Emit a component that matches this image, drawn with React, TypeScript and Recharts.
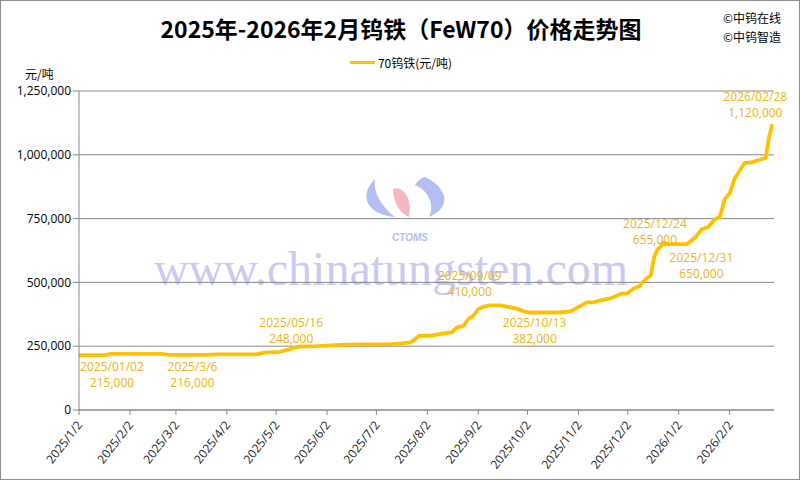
import React from "react";
import { LineChart, Line, XAxis, YAxis, CartesianGrid, Legend, LabelList } from "recharts";

// price points (元/吨)
const dates = [
  "2025/1/2", "2025/1/18", "2025/1/21", "2025/2/21", "2025/2/26", "2025/3/6", "2025/3/21", "2025/3/27",
  "2025/4/20", "2025/4/25", "2025/5/4", "2025/5/10", "2025/5/16", "2025/5/27", "2025/6/11", "2025/6/23",
  "2025/7/11", "2025/7/19", "2025/7/23", "2025/7/26", "2025/7/28", "2025/8/5", "2025/8/12", "2025/8/17",
  "2025/8/20", "2025/8/24", "2025/8/27", "2025/8/30", "2025/9/2", "2025/9/5", "2025/9/9", "2025/9/16",
  "2025/9/20", "2025/9/25", "2025/9/30", "2025/10/3", "2025/10/13", "2025/10/22", "2025/10/28", "2025/10/31",
  "2025/11/7", "2025/11/11", "2025/11/15", "2025/11/20", "2025/11/23", "2025/11/28", "2025/12/2", "2025/12/5",
  "2025/12/9", "2025/12/13", "2025/12/16", "2025/12/18", "2025/12/20", "2025/12/24", "2025/12/26", "2025/12/31",
  "2026/1/7", "2026/1/12", "2026/1/16", "2026/1/20", "2026/1/24", "2026/1/27", "2026/1/30", "2026/2/2",
  "2026/2/5", "2026/2/7", "2026/2/11", "2026/2/15", "2026/2/24", "2026/2/26", "2026/2/28",
];
const prices = [
  215000, 215000, 220000, 220000, 216000, 216000, 216000, 218000,
  218000, 225000, 228000, 238000, 248000, 250000, 255000, 257000,
  257000, 262000, 265000, 280000, 290000, 292000, 300000, 305000,
  323000, 330000, 357000, 369000, 396000, 404000, 410000, 410000,
  404000, 398000, 386000, 382000, 382000, 382000, 386000, 396000,
  422000, 422000, 429000, 435000, 442000, 455000, 458000, 474000,
  485000, 513000, 527000, 597000, 628000, 655000, 650000, 650000,
  650000, 675000, 708000, 717000, 748000, 755000, 826000, 848000,
  907000, 926000, 968000, 970000, 988000, 1070000, 1120000,
];

const xTickDates = [
  "2025/1/2", "2025/2/2", "2025/3/2", "2025/4/2", "2025/5/2", "2025/6/2", "2025/7/2",
  "2025/8/2", "2025/9/2", "2025/10/2", "2025/11/2", "2025/12/2", "2026/1/2", "2026/2/2",
];
const yTicks = [0, 250000, 500000, 750000, 1000000, 1250000];

const noteLabels = [
  "2025/01/02", "2025/3/6", "2025/05/16", "2025/09/09",
  "2025/10/13", "2025/12/24", "2025/12/31", "2026/02/28",
];
// label offsets from the point, px
const noteOffsets = [
  [33, 11], [10, 12], [-8, -24], [-20, -30],
  [-11, 10], [-9, -19], [26, 13], [-17, -28],
];

const dayOf = (s: string) => {
  const [y, m, d] = s.split("/").map(Number);
  return Math.round((Date.UTC(y, m - 1, d) - Date.UTC(2025, 0, 2)) / 86400000);
};

const data = dates.map((d, i) => ({ date: d, day: dayOf(d), price: prices[i] }));
const tickDays = xTickDates.map(dayOf);
const noteDays = noteLabels.map(dayOf);

const gold = "#FFC000";
const labelGold = "#EDB312";
const font = "'Open Sans', 'Noto Sans CJK SC', sans-serif";
const cjk = "'Noto Sans CJK SC', sans-serif";
const fmt = (v: number) => v.toLocaleString("en-US");

const XTick = (props: any) => {
  const { x, y, payload } = props;
  const i = tickDays.indexOf(payload.value);
  return (
    <g transform={`translate(${x + 4},${y + 8})`}>
      <text textAnchor="end" transform="rotate(-52)" fontSize={12} fontFamily={font} fill="#222">
        {xTickDates[i]}
      </text>
    </g>
  );
};

const NoteLabel = (props: any) => {
  const { x, y, index } = props;
  const k = noteDays.indexOf(data[index].day);
  if (k < 0) return null;
  const [dx, dy] = noteOffsets[k];
  return (
    <g>
      <text x={x + dx} y={y + dy} textAnchor="middle" dominantBaseline="central" fontSize={12} fontFamily={font} fill={labelGold}>
        {noteLabels[k]}
      </text>
      <text x={x + dx} y={y + dy + 16} textAnchor="middle" dominantBaseline="central" fontSize={12} fontFamily={font} fill={labelGold}>
        {fmt(data[index].price)}
      </text>
    </g>
  );
};

const Watermark = () => (
  <svg width={800} height={480} style={{ position: "absolute", left: 0, top: 0 }}>
    <path d="M374 178 C 356 196, 368 214, 394 216 C 382 206, 372 194, 374 178 Z" fill="#b6bdf0" />
    <path d="M392 188 C 402 184, 412 198, 408 216 C 398 212, 392 200, 392 188 Z" fill="#f6b8c0" />
    <path d="M424 176 C 446 186, 452 206, 428 216 C 434 204, 428 190, 414 184 C 416 180, 420 177, 424 176 Z" fill="#b6bdf0" />
    <text x={409} y={240} textAnchor="middle" fontSize={10} fontStyle="italic" fontWeight="bold" fontFamily="'Liberation Sans', sans-serif" fill="#b6bdf0">
      CTOMS
    </text>
    <text x={390} y={284} textAnchor="middle" fontSize={48} fontFamily="'Liberation Serif', serif" fill="#c8caf3">
      www.chinatungsten.com
    </text>
  </svg>
);

const App: React.FC = () => {
  return (
    <div style={{ position: "absolute", left: 0, top: 0, width: 800, height: 480, boxSizing: "border-box", border: "1px solid #8c8c8c", background: "#fff", overflow: "hidden" }}>
      <Watermark />
      <div style={{ position: "absolute", left: 0, top: 10, width: 800, textAlign: "center", fontSize: 23, fontWeight: "bold", fontFamily: cjk, lineHeight: "34px", color: "#000" }}>
        2025年-2026年2月钨铁（FeW70）价格走势图
      </div>
      <div style={{ position: "absolute", left: 722, top: 7, fontSize: 12, fontFamily: cjk, lineHeight: "19px", color: "#000" }}>
        <div>©中钨在线</div>
        <div>©中钨智造</div>
      </div>
      <div style={{ position: "absolute", left: 24, top: 64, fontSize: 12, fontFamily: cjk, color: "#000" }}>元/吨</div>
      <div style={{ position: "absolute", left: 0, top: 0 }}>
        <LineChart width={800} height={480} data={data} margin={{ top: 90, right: 27, bottom: 0, left: 0 }}>
          <CartesianGrid vertical={false} stroke="#888" />
          <XAxis
            dataKey="day"
            type="number"
            domain={[0, 423]}
            ticks={tickDays}
            interval={0}
            height={71}
            tick={<XTick />}
            tickLine={{ stroke: "#888" }}
            axisLine={{ stroke: "#888" }}
            tickSize={5}
          />
          <YAxis
            domain={[0, 1250000]}
            ticks={yTicks}
            interval={0}
            width={78}
            tickFormatter={fmt}
            tick={{ fontSize: 12, fontFamily: font, fill: "#000" }}
            tickLine={{ stroke: "#888" }}
            axisLine={{ stroke: "#888" }}
            tickSize={6}
          />
          <Legend
            verticalAlign="middle"
            align="center"
            layout="horizontal"
            wrapperStyle={{ top: 53, left: 0, width: 800, height: 20 }}
            content={(p: any) => (
              <div style={{ display: "flex", justifyContent: "center", alignItems: "center", fontSize: 12, fontFamily: cjk, color: "#000" }}>
                <span style={{ display: "inline-block", width: 25, height: 3, background: gold, marginRight: 3 }} />
                {p.payload && p.payload[0] ? p.payload[0].value : ""}
              </div>
            )}
          />
          <Line
            type="linear"
            dataKey="price"
            name="70钨铁(元/吨)"
            stroke={gold}
            strokeWidth={3.8}
            dot={false}
            isAnimationActive={false}
          >
            <LabelList dataKey="price" content={<NoteLabel />} />
          </Line>
        </LineChart>
      </div>
    </div>
  );
};

export default App;
